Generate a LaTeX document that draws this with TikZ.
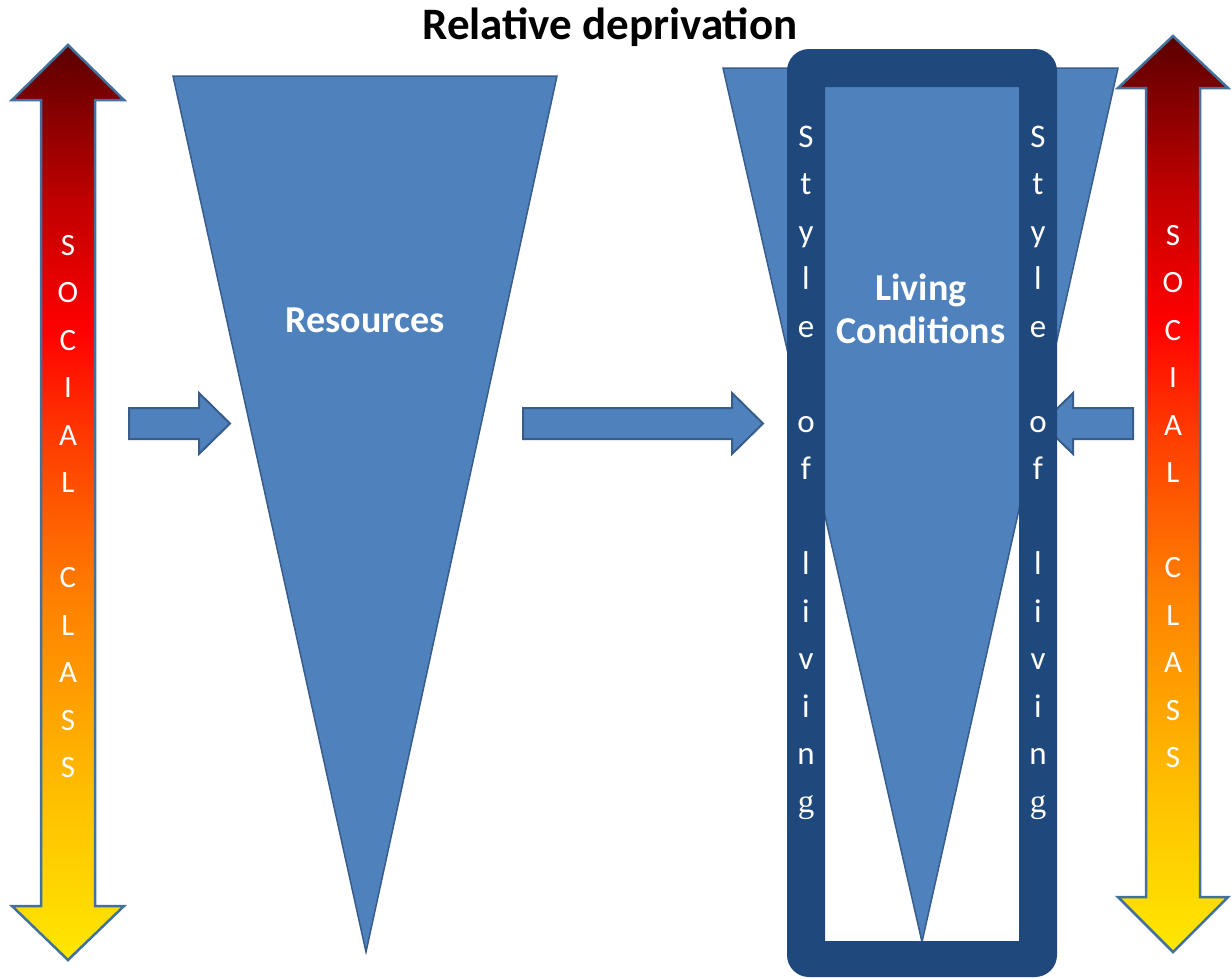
\documentclass[tikz,border=0pt]{standalone}
\usepackage{fontspec}
\setmainfont{Carlito}
\newfontfamily\serifg{Liberation Serif}
\definecolor{cTri}{HTML}{4F81BD}
\definecolor{cTriLine}{HTML}{385D8A}
\definecolor{cFrame}{HTML}{1F497D}
\definecolor{cArrLine}{HTML}{41719C}
\definecolor{sg0}{HTML}{FFE800}
\definecolor{sg1}{HTML}{FFC000}
\definecolor{sg2}{HTML}{FF8000}
\definecolor{sg3}{HTML}{FF4000}
\definecolor{sg4}{HTML}{FF0000}
\definecolor{sg5}{HTML}{C00000}
\definecolor{sg6}{HTML}{5A0000}
\pgfdeclareverticalshading{socshade}{100bp}{color(0bp)=(sg0); color(25bp)=(sg0); color(33.7bp)=(sg1); color(44.7bp)=(sg2); color(52.9bp)=(sg3); color(59.4bp)=(sg4); color(66.5bp)=(sg5); color(75bp)=(sg6); color(100bp)=(sg6)}
\begin{document}
\begin{tikzpicture}[x=1pt,y=-1pt,
  trishape/.style={fill=cTri, draw=cTriLine, line width=1.5pt, line join=miter},
  blockarrow/.style={fill=cTri, draw=cTriLine, line width=2pt, line join=miter},
  socarrow/.style={shading=socshade, draw=cArrLine, line width=2.5pt, line join=miter},
  biglbl/.style={text=white, font=\fontsize{38}{43}\selectfont\bfseries, align=center, inner sep=0pt, anchor=base},
  soclet/.style={text=white, anchor=base, inner sep=0pt, font=\fontsize{31}{31}\selectfont},
  stylet/.style={text=white, anchor=base, inner sep=0pt, font=\fontsize{33}{33}\selectfont}]
\useasboundingbox (0,0) rectangle (1232,978);

% title
\node[anchor=base, inner sep=0pt, font=\fontsize{45}{45}\selectfont\bfseries] (title) at (610,39) {Relative deprivation};

% left social class arrow
\path[socarrow] (68,45) -- (124,100) -- (95,100) -- (95,906) -- (124,906) -- (68,960) -- (12,906) -- (41,906) -- (41,100) -- (12,100) -- cycle;
\foreach \l/\k in {S/0,O/1,C/2,I/3,A/4,L/5,C/7,L/8,A/9,S/10,S/11}
  \node[soclet] (ls\k) at (68,{255+47.5*\k}) {\l};

% right social class arrow
\path[socarrow] (1173,36) -- (1228,88) -- (1200,88) -- (1200,897) -- (1228,897) -- (1173,952) -- (1118,897) -- (1146,897) -- (1146,88) -- (1118,88) -- cycle;
\foreach \l/\k in {S/0,O/1,C/2,I/3,A/4,L/5,C/7,L/8,A/9,S/10,S/11}
  \node[soclet] (rs\k) at (1173,{245+47.5*\k}) {\l};

% resources triangle
\path[trishape] (173,76) -- (557,76) -- (366,952) -- cycle;
\node[biglbl] (res) at (365,332) {Resources};

% small arrows
\path[blockarrow] (129,408) -- (199,408) -- (199,393) -- (230,423.5) -- (199,454) -- (199,439) -- (129,439) -- cycle;
\path[blockarrow] (523,408) -- (732,408) -- (732,393) -- (763,423.5) -- (732,454) -- (732,439) -- (523,439) -- cycle;

% living conditions triangle
\path[trishape] (723,68) -- (1118,68) -- (922,942) -- cycle;
\path[blockarrow] (1133,408) -- (1073,408) -- (1073,393) -- (1042,423.5) -- (1073,454) -- (1073,439) -- (1133,439) -- cycle;

% frame
\fill[cFrame, even odd rule] [rounded corners=22pt] (787,49) rectangle (1057,977) [sharp corners] (825,87) rectangle (1019,941);

\node[biglbl] (liv1) at (921,300) {Living};
\node[biglbl] (liv2) at (921,343) {Conditions};

% style of living
\foreach \l/\k in {S/0,t/1,y/2,l/3,e/4,o/6,f/7,l/9,i/10,v/11,i/12,n/13,{\serifg g}/14}{
  \node[stylet] (sa\k) at (806,{147+47.5*\k}) {\l};
  \node[stylet] (sb\k) at (1038,{147+47.5*\k}) {\l};
}
\end{tikzpicture}
\end{document}
